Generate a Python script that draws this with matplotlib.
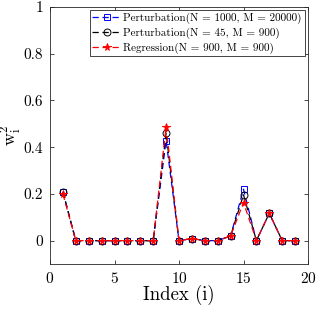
import matplotlib.pyplot as plt
import numpy as np

plt.rcParams['font.family'] = 'serif'
plt.rcParams['font.serif'] = ['cmr10']
plt.rcParams['mathtext.fontset'] = 'cm'
plt.rcParams['axes.formatter.use_mathtext'] = True

# data
index = np.arange(1, 20)
w_pert_1000 = [0.209, 0, 0, 0, 0, 0, 0, 0, 0.428, 0, 0.009, 0, 0, 0.02, 0.22, 0, 0.117, 0, 0]
w_pert_45 = [0.209, 0, 0, 0, 0, 0, 0, 0, 0.46, 0, 0.009, 0, 0, 0.02, 0.196, 0, 0.117, 0, 0]
w_regr = [0.20, 0, 0, 0, 0, 0, 0, 0, 0.488, 0, 0.009, 0, 0, 0.02, 0.163, 0, 0.117, 0, 0]

labels = ['Perturbation(N = 1000, M = 20000)',
          'Perturbation(N = 45, M = 900)',
          'Regression(N = 900, M = 900)']

fig = plt.figure(figsize=(3.16, 3.09), dpi=100)
ax = fig.add_axes([50 / 316, 45 / 309, 258 / 316, 257 / 309])

dash = (5, 3)
ax.plot(index, w_pert_1000, 's', ls='--', dashes=dash, color='blue', mfc='none',
        ms=4.5, mew=0.7, lw=0.9, label=labels[0])
ax.plot(index, w_pert_45, 'o', ls='--', dashes=dash, color='black', mfc='none',
        ms=5, mew=0.7, lw=0.9, label=labels[1])
ax.plot(index, w_regr, '*', ls='--', dashes=dash, color='red',
        ms=5.5, mew=0.7, lw=0.9, label=labels[2])

ax.set_xlim(0, 20)
ax.set_ylim(-0.1, 1)
ax.set_xticks([0, 5, 10, 15, 20])
ax.set_yticks([0, 0.2, 0.4, 0.6, 0.8, 1])
ax.set_yticklabels(['0', '0.2', '0.4', '0.6', '0.8', '1'])
ax.tick_params(direction='in', top=True, right=True, labelsize=11, length=3, width=0.5, pad=5)
for s in ax.spines.values():
    s.set_linewidth(0.6)
    s.set_color('#262626')

ax.set_xlabel('Index (i)', fontsize=13.5)
ax.xaxis.set_label_coords(0.5, -0.083)
ax.set_ylabel(r'$\mathrm{w}_\mathrm{i}^2$', fontsize=13)
ax.yaxis.set_label_coords(-0.1, 0.5)

leg = ax.legend(loc='upper right', fontsize=8, fancybox=False, framealpha=1,
                edgecolor='#262626', borderpad=0.25, labelspacing=0.3,
                handlelength=2.6, handletextpad=0.2, borderaxespad=0.3)
leg.get_frame().set_linewidth(0.6)

fig.savefig('out.png', dpi=100)
